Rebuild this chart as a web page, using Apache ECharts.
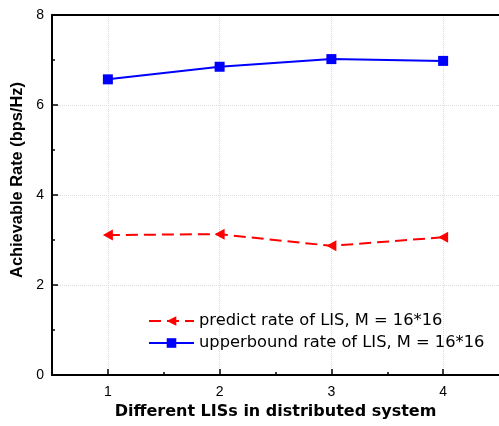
<!DOCTYPE html>
<html><head><meta charset="utf-8">
<script src="https://cdn.jsdelivr.net/npm/echarts@6/dist/echarts.min.js"></script>
<style>html,body{margin:0;padding:0;background:#fff}#c{width:499px;height:426px}</style>
</head><body><div id="c"></div>
<script>
const lisIndex = [1, 2, 3, 4];
const predictRate = [3.11, 3.13, 2.87, 3.06];
const upperboundRate = [6.57, 6.85, 7.02, 6.98];
const xTicks = [1, 2, 3, 4];
const xMinorTicks = [1.5, 2.5, 3.5];
const seriesNames = ['predict rate of LIS, M = 16*16', 'upperbound rate of LIS, M = 16*16'];
const xTitle = 'Different LISs in distributed system';
const yTitle = 'Achievable Rate (bps/Hz)';

const chart = echarts.init(document.getElementById('c'), null, {renderer: 'canvas'});
const pairs = (xs, ys) => xs.map((x, i) => [x, ys[i]]);
const tickStyle = {color: '#000', width: 1.5};
const gridLine = {show: true, lineStyle: {color: '#dcdcdc', type: 'dotted', width: 1}};
const option = {
  animation: false,
  backgroundColor: '#fff',
  grid: {left: 52, top: 15, width: 448, height: 360},
  legend: {
    data: seriesNames, orient: 'vertical', left: 143, top: 308,
    itemWidth: 45, itemHeight: 12, itemGap: 6,
    textStyle: {fontFamily: 'DejaVu Sans', fontSize: 16.3, color: '#000'}
  },
  xAxis: [
    {
      type: 'value', min: 0.5, max: 4.5, interval: 0.5, position: 'bottom',
      axisLine: {onZero: false, lineStyle: {color: '#000', width: 2}},
      axisTick: {inside: true, length: 6, customValues: xTicks, lineStyle: tickStyle},
      axisLabel: {customValues: xTicks, margin: 10, color: '#000', fontSize: 14, fontFamily: 'Liberation Sans'},
      splitLine: gridLine,
      name: xTitle, nameLocation: 'middle', nameGap: 22,
      nameTextStyle: {fontFamily: 'DejaVu Sans', fontWeight: 'bold', fontSize: 16, color: '#000'}
    },
    {
      type: 'value', min: 0.5, max: 4.5, interval: 0.5, position: 'bottom',
      axisLine: {show: false, onZero: false},
      axisTick: {inside: true, length: 3, customValues: xMinorTicks, lineStyle: tickStyle},
      axisLabel: {show: false}, splitLine: {show: false}
    },
    {
      type: 'value', min: 0.5, max: 4.5, interval: 0.5, position: 'top',
      axisLine: {onZero: false, lineStyle: {color: '#000', width: 2}},
      axisTick: {show: false}, axisLabel: {show: false}, splitLine: {show: false}
    }
  ],
  yAxis: [{
    type: 'value', min: 0, max: 8, interval: 2,
    axisLine: {show: true, onZero: false, lineStyle: {color: '#000', width: 2}},
    axisTick: {show: true, inside: true, length: 6, lineStyle: tickStyle},
    minorTick: {show: true, splitNumber: 2, length: 3, lineStyle: tickStyle},
    axisLabel: {margin: 8, color: '#000', fontSize: 14, fontFamily: 'Liberation Sans'},
    splitLine: gridLine,
    name: yTitle, nameLocation: 'middle', nameGap: 25,
    nameTextStyle: {fontFamily: 'Liberation Sans', fontWeight: 'bold', fontSize: 16.4, color: '#000', padding: [0, 0, 0, 30]}
  }],
  series: [
    {
      name: seriesNames[0], type: 'line', xAxisIndex: 0, yAxisIndex: 0,
      data: pairs(lisIndex, predictRate),
      symbol: 'path://M0,5L10,0L10,10Z', symbolSize: [10, 11],
      lineStyle: {color: '#ff0000', width: 2, type: [12, 6]},
      itemStyle: {color: '#ff0000'}
    },
    {
      name: seriesNames[1], type: 'line', xAxisIndex: 0, yAxisIndex: 0,
      data: pairs(lisIndex, upperboundRate),
      symbol: 'rect', symbolSize: 10,
      lineStyle: {color: '#0000ff', width: 2},
      itemStyle: {color: '#0000ff'}
    }
  ]
};
chart.setOption(option);
</script></body></html>
